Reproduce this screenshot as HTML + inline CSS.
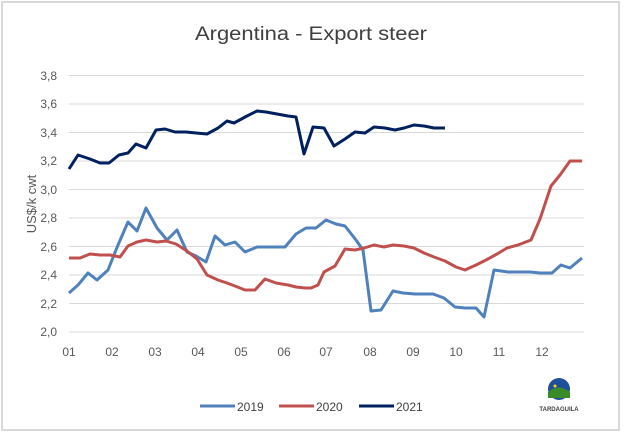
<!DOCTYPE html>
<html><head><style>
body{margin:0;background:#fff;}
svg{display:block;font-family:"Liberation Sans",sans-serif;}
</style></head><body>
<svg width="623" height="434" viewBox="0 0 623 434">
<rect x="2" y="2" width="617" height="428" fill="#fff" stroke="#d9d9d9" stroke-width="2"/>
<text x="311" y="40" font-size="19" text-anchor="middle" fill="#404040" textLength="232" lengthAdjust="spacingAndGlyphs">Argentina - Export steer</text>
<g stroke="#d9d9d9" stroke-width="1">
<line x1="69" x2="584" y1="75.5" y2="75.5"/><line x1="69" x2="584" y1="104" y2="104"/>
<line x1="69" x2="584" y1="132.5" y2="132.5"/><line x1="69" x2="584" y1="161" y2="161"/>
<line x1="69" x2="584" y1="189.5" y2="189.5"/><line x1="69" x2="584" y1="218" y2="218"/>
<line x1="69" x2="584" y1="246.5" y2="246.5"/><line x1="69" x2="584" y1="275" y2="275"/>
<line x1="69" x2="584" y1="303.5" y2="303.5"/><line x1="69" x2="584" y1="332" y2="332"/>
</g>
<g font-size="12" fill="#595959" text-anchor="end">
<text x="57" y="80">3,8</text><text x="57" y="108">3,6</text><text x="57" y="137">3,4</text>
<text x="57" y="165">3,2</text><text x="57" y="194">3,0</text><text x="57" y="222">2,8</text>
<text x="57" y="251">2,6</text><text x="57" y="279">2,4</text><text x="57" y="308">2,2</text>
<text x="57" y="336">2,0</text>
</g>
<text transform="translate(36,204) rotate(-90)" font-size="13" fill="#595959" text-anchor="middle">US$/k cwt</text>
<g font-size="12" fill="#595959" text-anchor="middle">
<text x="69" y="356">01</text><text x="112" y="356">02</text><text x="155" y="356">03</text>
<text x="198" y="356">04</text><text x="241" y="356">05</text><text x="284" y="356">06</text>
<text x="326" y="356">07</text><text x="370" y="356">08</text><text x="413" y="356">09</text>
<text x="456" y="356">10</text><text x="499" y="356">11</text><text x="542" y="356">12</text>
</g>
<g fill="none" stroke-width="3" stroke-linejoin="round">
<polyline stroke="#4f81bd" points="69,293 78,285 88,273 97,280 108,270 118,245 128,222 137,231 146,208 157,228 167,240 177,230 187,252 196,256 206,262 215,236 225,245 235,242 245,252 257,247 285,247 296,234 306,228 316,228 326,220 336,224 345,226 356,240 363,250 371,311 381,310 393,291 403,293 415,294 433,294 444,298 455,307 465,308 476,308 484,317 494,270 508,272 530,272 540,273 552,273 561,265 570,268 582,258"/>
<polyline stroke="#c0504d" points="69,258 80,258 90,254 100,255 110,255 120,257 128,246 137,242 146,240 157,242 166,241 176,244 187,251 197,259 207,275 218,280 227,283 235,286 245,290 255,290 265,279 276,283 288,285 296,287 305,288 311,288 318,285 324,272 335,266 345,249 355,250 364,248 374,245 384,247 393,245 404,246 414,248 424,253 434,257 445,261 456,267 465,270 476,265 486,260 497,254 507,248 518,245 531,240 540,219 551,186 560,175 570,161 582,161"/>
<polyline stroke="#002060" points="69,169 78,155 90,159 100,163 109,163 119,155 128,153 136,144 146,148 156,130 165,129 175,132 186,132 196,133 207,134 218,128 227,121 234,123 247,116 257,111 266,112 277,114 288,116 296,117 304,154 313,127 324,128 334,146 345,139 355,132 365,133 374,127 385,128 395,130 404,128 414,125 424,126 434,128 445,128"/>
</g>
<g font-size="12" fill="#404040">
<line x1="200" x2="235" y1="406" y2="406" stroke="#4f81bd" stroke-width="3"/><text x="237" y="411">2019</text>
<line x1="279" x2="314" y1="406" y2="406" stroke="#c0504d" stroke-width="3"/><text x="316" y="411">2020</text>
<line x1="359" x2="394" y1="406" y2="406" stroke="#002060" stroke-width="3"/><text x="396" y="411">2021</text>
</g>
<circle cx="559" cy="389" r="11" fill="#1f4e9a"/>
<path d="M548,392 Q559,383 570,392 L570,398 L548,398 Z" fill="#3a8a2a"/>
<circle cx="555" cy="386" r="1.5" fill="#ffd800"/>
<text x="559" y="411" font-size="6" font-weight="bold" fill="#404040" text-anchor="middle">TARDAGUILA</text>
</svg>
</body></html>
